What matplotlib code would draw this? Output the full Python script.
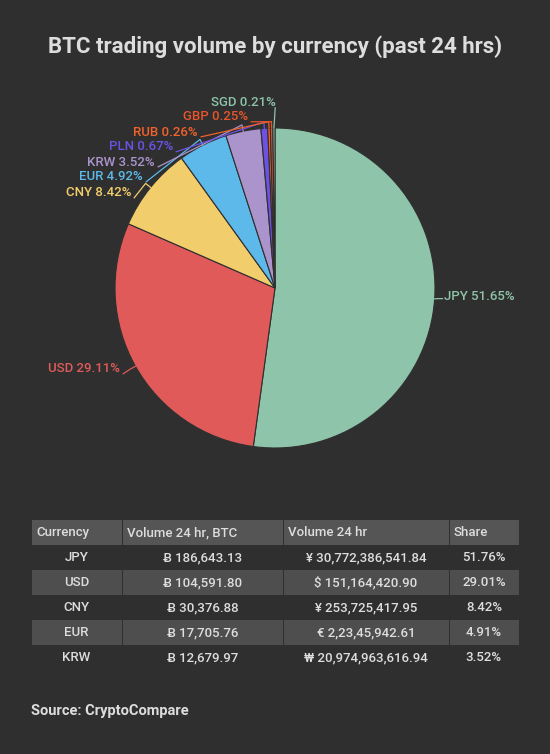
import numpy as np
import matplotlib.pyplot as plt
from matplotlib.patches import Rectangle

plt.rcParams['font.family'] = ['Roboto', 'DejaVu Sans']

# pie data
currencies = ["JPY", "USD", "CNY", "EUR", "KRW", "PLN", "RUB", "GBP", "SGD"]
shares = [51.65, 29.11, 8.42, 4.92, 3.52, 0.67, 0.26, 0.25, 0.21]
colors = ["#8ec4a9", "#e05a5a", "#f2cd6c", "#5cb9e9", "#ab93cb",
          "#6b52e2", "#f0622c", "#e8542c", "#8ec4a9"]

# table data
tbl_header = ["Currency", "Volume 24 hr, BTC", "Volume 24 hr", "Share"]
tbl_cur = ["JPY", "USD", "CNY", "EUR", "KRW"]
tbl_btc = ["Ƀ 186,643.13", "Ƀ 104,591.80", "Ƀ 30,376.88", "Ƀ 17,705.76", "Ƀ 12,679.97"]
tbl_vol = ["¥ 30,772,386,541.84", "$ 151,164,420.90", "¥ 253,725,417.95",
           "€ 2,23,45,942.61", "₩ 20,974,963,616.94"]
tbl_share = ["51.76%", "29.01%", "8.42%", "4.91%", "3.52%"]

BG = "#2f2f2f"
W, H = 550, 754
fig = plt.figure(figsize=(W / 100, H / 100), dpi=100, facecolor=BG)

fig.text(0.5, 1 - 47 / H, "BTC trading volume by currency (past 24 hrs)",
         ha="center", va="center", color="#dddddd", fontsize=16, fontweight="bold")

# pie axes, center (275, 288) px, radius 160 px
cx, cy, R = 275, 288, 160
ax = fig.add_axes([(cx - R) / W, 1 - (cy + R) / H, 2 * R / W, 2 * R / H])
ax.set_facecolor(BG)
wedges, _ = ax.pie(shares, colors=colors, startangle=90, counterclock=False,
                   radius=1, wedgeprops=dict(edgecolor=BG, linewidth=0.8))
ax.set_xlim(-1, 1)
ax.set_ylim(-1, 1)
ax.set_aspect("equal")
ax.axis("off")

# label layout in pixels (x anchor, y, side)
label_px = [(444, 297, "left"), (120, 369, "right"), (131, 193, "right"),
            (143, 177, "right"), (155, 162, "right"), (173, 147, "right"),
            (198, 132, "right"), (248, 117, "right"), (276, 103, "right")]


def to_data(px, py):
    return (px - cx) / R, (cy - py) / R


for w, cur, s, col, (lx, ly, side) in zip(wedges, currencies, shares, colors, label_px):
    ang = np.deg2rad((w.theta1 + w.theta2) / 2)
    ex, ey = np.cos(ang), np.sin(ang)
    tx, ty = to_data(lx, ly)
    if cur == "SGD":
        pts = [(ex, ey), (tx - 0.005, ty - 0.03)]
    elif side == "left":
        pts = [(ex, ey), (ex + 0.02, ty - 0.01), (tx - 0.01, ty - 0.01)]
    else:
        pts = [(ex, ey), (ex * 1.04, ey * 1.04), (tx + 0.02, ty - 0.03)]
    xs, ys = zip(*pts)
    ax.plot(xs, ys, color=col, lw=0.9, clip_on=False)
    ax.text(tx, ty, f"{cur} {s:.2f}%", color=col, fontsize=9.5, fontweight="medium",
            ha=side, va="center", clip_on=False)

# table in pixel coordinates
tax = fig.add_axes([0, 0, 1, 1])
tax.set_xlim(0, W)
tax.set_ylim(H, 0)
tax.axis("off")
tax.patch.set_alpha(0)

col_edges = [31, 122, 283, 449, 519]
row_h = 25
top = 520
hdr_color = "#555555"
alt_color = "#4e4e4e"
txt_color = "#dddddd"

for i, name in enumerate(tbl_header):
    x0, x1 = col_edges[i], col_edges[i + 1]
    tax.add_patch(Rectangle((x0 + 0.5, top), x1 - x0 - 1, row_h, color=hdr_color, lw=0))
    tax.text(x0 + 5, top + row_h / 2, name, color=txt_color, fontsize=9.5,
             fontweight="medium", ha="left", va="center")

rows = list(zip(tbl_cur, tbl_btc, tbl_vol, tbl_share))
for r, row in enumerate(rows):
    y0 = top + row_h * (r + 1)
    for i, val in enumerate(row):
        x0, x1 = col_edges[i], col_edges[i + 1]
        if r % 2 == 1:
            tax.add_patch(Rectangle((x0 + 0.5, y0), x1 - x0 - 1, row_h, color=alt_color, lw=0))
        tax.text((x0 + x1) / 2, y0 + row_h / 2, val, color=txt_color, fontsize=9.5,
                 fontweight="medium", ha="center", va="center")

fig.text(31 / W, 1 - 711 / H, "Source: CryptoCompare", color="#dddddd",
         fontsize=10.5, fontweight="bold", ha="left", va="center")

fig.savefig("out.png", dpi=100, facecolor=BG)
